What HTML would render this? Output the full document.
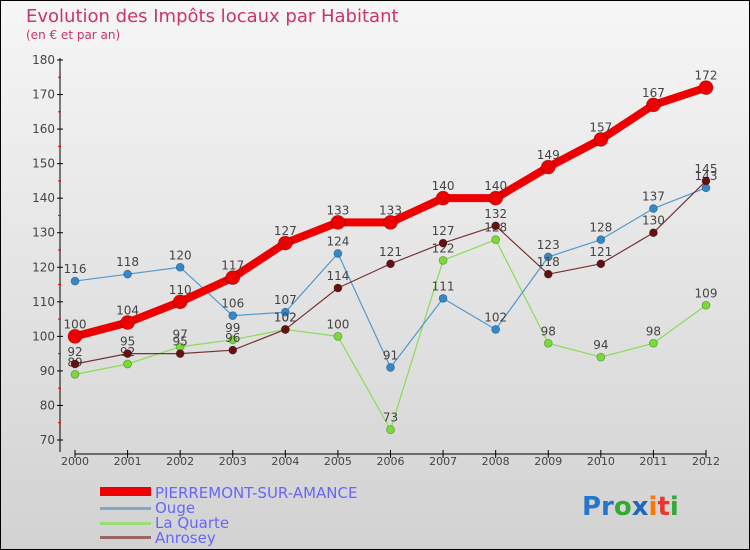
<!DOCTYPE html>
<html><head><meta charset="utf-8"><style>
body{margin:0}
svg{display:block;font-family:"DejaVu Sans","Liberation Sans",sans-serif}
</style></head><body>
<svg id="c" width="750" height="550" xmlns="http://www.w3.org/2000/svg">
<defs><linearGradient id="bg" x1="0" y1="0" x2="0" y2="1"><stop offset="0" stop-color="#f6f6f6"/><stop offset="1" stop-color="#d2d2d2"/></linearGradient></defs>
<rect x="0.5" y="0.5" width="749" height="549" fill="url(#bg)" stroke="#000"/>
<text x="26" y="22" font-size="18" fill="#cc3366">Evolution des Impôts locaux par Habitant</text>
<text x="26" y="39" font-size="12" fill="#cc3366">(en € et par an)</text>
<g id="axes"></g><g id="series"></g>
<g>
<rect x="100" y="487" width="51" height="9" fill="#ee0000"/>
<text x="155" y="498" font-size="15" fill="#6666ff">PIERREMONT-SUR-AMANCE</text>
<rect x="100" y="507" width="51" height="3" fill="#80a8c8"/>
<text x="155" y="513" font-size="15" fill="#6666ff">Ouge</text>
<rect x="100" y="522" width="51" height="3" fill="#99dd77"/>
<text x="155" y="528" font-size="15" fill="#6666ff">La Quarte</text>
<rect x="100" y="536" width="51" height="3" fill="#996666"/>
<text x="155" y="543" font-size="15" fill="#6666ff">Anrosey</text>
</g>
<g font-size="26" font-weight="bold">
<text x="582" y="515"><tspan fill="#2277cc">Pr</tspan><tspan fill="#33aa33">o</tspan><tspan fill="#2266bb">x</tspan><tspan fill="#ff7700">i</tspan><tspan fill="#ee3333">t</tspan><tspan fill="#33aa33">i</tspan></text>
</g>
</svg>
<script>
const years=[2000,2001,2002,2003,2004,2005,2006,2007,2008,2009,2010,2011,2012];
const yTicks=[70,80,90,100,110,120,130,140,150,160,170,180];
const pierremont=[100,104,110,117,127,133,133,140,140,149,157,167,172];
const ouge=[116,118,120,106,107,124,91,111,102,123,128,137,143];
const laQuarte=[89,92,97,99,102,100,73,122,128,98,94,98,109];
const anrosey=[92,95,95,96,102,114,121,127,132,118,121,130,145];
const NS="http://www.w3.org/2000/svg";
const x=i=>75+i*(706-75)/(years.length-1);
const y=v=>440-(v-70)*(380/110);
function mk(t,a,p){const e=document.createElementNS(NS,t);for(const k in a)e.setAttribute(k,a[k]);p.appendChild(e);return e;}
const ax=document.getElementById('axes');
const ya=mk('line',{x1:60,y1:58,x2:60,y2:452,stroke:'#000'},ax);


yTicks.forEach((v,k)=>{
 mk('line',{x1:57,y1:y(v),x2:63,y2:y(v),stroke:'#000'},ax);
 if(k<yTicks.length-1) mk('line',{x1:58,y1:y(v+5),x2:61,y2:y(v+5),stroke:'#e00'},ax);
 const t=mk('text',{x:55,y:y(v)+4,'font-size':12,'text-anchor':'end',fill:'#444'},ax);t.textContent=v;
 
 
});
const xa=mk('line',{x1:75,y1:454,x2:706,y2:454,stroke:'#000'},ax);


years.forEach((yr,i)=>{
 mk('line',{x1:x(i),y1:450,x2:x(i),y2:458,stroke:'#000'},ax);
 const t=mk('text',{x:x(i),y:465,'font-size':11,'text-anchor':'middle',fill:'#444'},ax);t.textContent=yr;
 
 
});
const sg=document.getElementById('series');
function series(data,name,color,w,r,dot){
 const g=mk('g',{},sg);
 
 
 mk('polyline',{points:data.map((v,i)=>x(i)+','+y(v)).join(' '),fill:'none',stroke:color,'stroke-width':w,'stroke-linejoin':'round'},g);
 data.forEach((v,i)=>{
  const c=mk('circle',{cx:x(i),cy:y(v),r:r,fill:dot,stroke:'rgba(0,0,0,0.3)','stroke-width':0.8},g);
  
  
  const t=mk('text',{x:x(i),y:y(v)-8,'font-size':12,'text-anchor':'middle',fill:'#444'},g);t.textContent=v;
  
  
 });
}
series(laQuarte,'la-quarte','#88dd55',1.2,4,'#77dd33');
series(ouge,'ouge','#5599cc',1.2,4,'#3388cc');
series(anrosey,'anrosey','#773333',1.2,4,'#661111');
series(pierremont,'pierremont','#ee0000',8,7,'#ee0000');
</script>
</body></html>
